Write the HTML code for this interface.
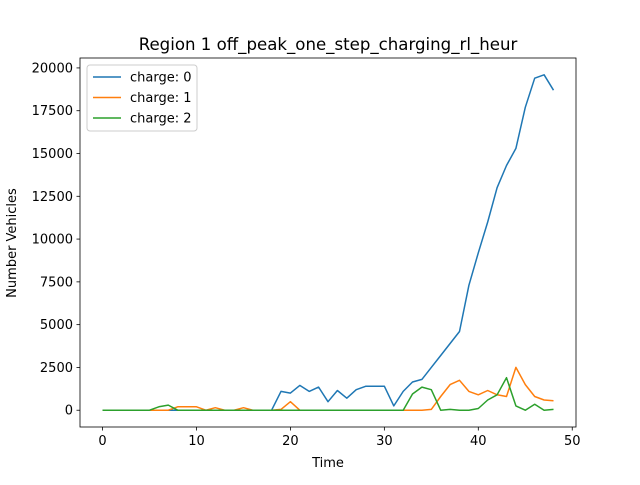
<!DOCTYPE html>
<html><head><meta charset="utf-8"><style>
body{margin:0;background:#fff;}
svg{font-family:"DejaVu Sans","Liberation Sans",sans-serif;}
</style></head><body>
<svg id="chart" width="640" height="480" viewBox="0 0 640 480">
<rect width="640" height="480" fill="#fff"/>
<text x="328" y="50" font-size="16.6" text-anchor="middle">Region 1 off_peak_one_step_charging_rl_heur</text>
<g id="plot"></g>
<text x="328" y="467" font-size="13" text-anchor="middle">Time</text>
<text transform="translate(16,243) rotate(-90)" font-size="13" text-anchor="middle">Number Vehicles</text>
</svg>
<script>
const times = Array.from({length:49},(_, i)=>i);
const charge0 = [0,0,0,0,0,0,0,0,0,0,0,0,0,0,0,0,0,0,0,1100,1000,1450,1100,1350,500,1150,700,1200,1400,1400,1400,250,1100,1650,1800,2500,3200,3900,4600,7300,9200,11000,13000,14300,15300,17700,19400,19600,18700];
const charge1 = [0,0,0,0,0,0,0,0,200,200,200,0,150,0,0,150,0,0,0,50,500,0,0,0,0,0,0,0,0,0,0,0,0,0,0,50,800,1500,1750,1100,900,1150,900,800,2500,1500,800,600,550];
const charge2 = [0,0,0,0,0,0,200,300,0,0,0,0,0,0,0,0,0,0,0,0,0,0,0,0,0,0,0,0,0,0,0,0,0,950,1350,1200,0,50,0,0,100,600,900,1900,250,0,350,0,50];
const xTicks = [0,10,20,30,40,50];
const yTicks = [0,2500,5000,7500,10000,12500,15000,17500,20000];
const seriesNames = ["charge: 0","charge: 1","charge: 2"];
const colors = ["#1f77b4","#ff7f0e","#2ca02c"];

const L=80,R=576,T=58,B=427;
const xmin=-2.4,xmax=50.4,ymin=-980,ymax=20580;
const sx=v=>L+(v-xmin)/(xmax-xmin)*(R-L);
const sy=v=>B-(v-ymin)/(ymax-ymin)*(B-T);
const NS="http://www.w3.org/2000/svg";
const g=document.getElementById('plot');
function mk(tag,attrs){const e=document.createElementNS(NS,tag);for(const k in attrs)e.setAttribute(k,attrs[k]);g.appendChild(e);return e;}

[charge0,charge1,charge2].forEach((s,i)=>{
  const p=mk('polyline',{points:s.map((v,j)=>sx(times[j]).toFixed(1)+','+sy(v).toFixed(1)).join(' '),fill:'none',stroke:colors[i],'stroke-width':1.5,'stroke-linejoin':'round'});
  
  
});
const fr=mk('rect',{x:L,y:T,width:R-L,height:B-T,fill:'none',stroke:'#000','stroke-width':0.8});


xTicks.forEach(t=>{
  mk('line',{x1:sx(t),x2:sx(t),y1:B,y2:B+3.5,stroke:'#000','stroke-width':0.8});
  const tx=mk('text',{x:sx(t),y:B+18,'font-size':13,'text-anchor':'middle'});tx.textContent=t;
  
  
});
yTicks.forEach(t=>{
  mk('line',{x1:L-3.5,x2:L,y1:sy(t),y2:sy(t),stroke:'#000','stroke-width':0.8});
  const tx=mk('text',{x:L-7,y:sy(t)+4.5,'font-size':13,'text-anchor':'end'});tx.textContent=t;
  
  
});
const lg=mk('rect',{x:87,y:65,width:110,height:66,rx:3,fill:'#fff','fill-opacity':0.8,stroke:'#ccc','stroke-width':1});


seriesNames.forEach((n,i)=>{
  const y=77+i*20.5;
  mk('line',{x1:93,x2:121,y1:y,y2:y,stroke:colors[i],'stroke-width':1.5});
  const tx=mk('text',{x:130,y:y+4.5,'font-size':13});tx.textContent=n;
  
  
});
</script>
</body></html>
